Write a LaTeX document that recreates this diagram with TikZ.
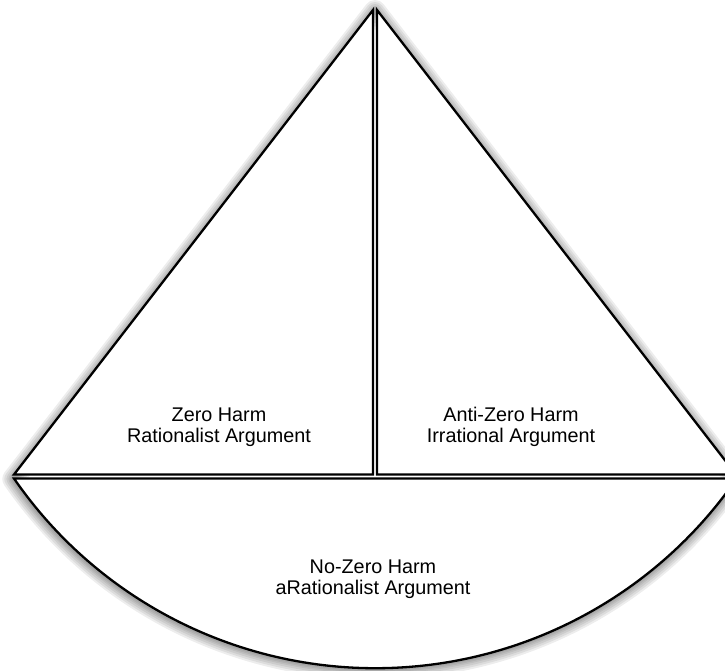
\documentclass[tikz,border=0pt]{standalone}
\usepackage{fontspec}
\setmainfont{Liberation Sans}
\usepackage{tikz}

\begin{document}
\begin{tikzpicture}[
    x=1pt, y=1pt,
    panel/.style={draw=black, fill=white, line width=2.3pt, line join=miter},
    glow/.style={draw=black, line join=round, draw opacity=0.07},
    caption/.style={align=center, font=\fontsize{19.8}{21.5}\selectfont}
]
\useasboundingbox (0,0) rectangle (725,670);
\clip (0,0) rectangle (725,670);

% Soft shadow round the whole sail
\foreach \w in {22,18,14,10,7,4}
    \draw[glow, line width=\w pt] (375,659) -- (736,191) arc[start angle=325.4, end angle=214.6, radius=439] -- cycle;

% Bottom segment
\draw[panel] (14,191.5) arc[start angle=214.6, end angle=325.4, radius=439] -- cycle;

% Two triangles
\draw[panel] (373,660) -- (14,195.5) -- (373,195.5) -- cycle;
\draw[panel] (377,660) -- (377,195.5) -- (736,195.5) -- cycle;

% Labels
\node[caption] (zeroharm) at (219,243) {Zero Harm\\Rationalist Argument};
\node[caption] (antizero) at (511,243) {Anti-Zero Harm\\Irrational Argument};
\node[caption] (nozero) at (373,91) {No-Zero Harm\\aRationalist Argument};
\end{tikzpicture}
\end{document}
